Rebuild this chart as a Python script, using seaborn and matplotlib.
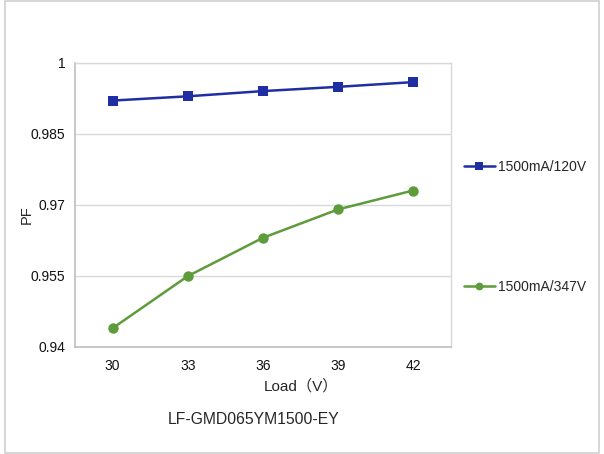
import matplotlib
matplotlib.use("Agg")
import matplotlib.pyplot as plt
import matplotlib.patches as mpatches
from matplotlib.ticker import FuncFormatter
import seaborn as sns
import pandas as pd

loads = [30, 33, 36, 39, 42]
pf_120v = [0.9920, 0.9929, 0.9940, 0.9949, 0.9959]
pf_347v = [0.9439, 0.9549, 0.9630, 0.9690, 0.9730]
series_names = ["1500mA/120V", "1500mA/347V"]
y_ticks = [0.94, 0.955, 0.97, 0.985, 1.0]
x_label = "Load（V）"
y_label = "PF"
title = "LF-GMD065YM1500-EY"

sns.set_style("white")
plt.rcParams["font.family"] = ["Liberation Sans", "Noto Sans CJK SC", "DejaVu Sans"]

df = pd.DataFrame({
    "Load": loads * 2,
    "PF": pf_120v + pf_347v,
    "Series": [series_names[0]] * len(loads) + [series_names[1]] * len(loads),
})

W, H = 604, 454
fig = plt.figure(figsize=(W / 100, H / 100), dpi=100)
ax = fig.add_axes([75 / W, 1 - 346.7 / H, (450.7 - 75) / W, (346.7 - 62.7) / H])

palette = {series_names[0]: "#1F2EA3", series_names[1]: "#5E9B3B"}
markers = {series_names[0]: "s", series_names[1]: "o"}
sns.lineplot(data=df, x="Load", y="PF", hue="Series", style="Series",
             palette=palette, markers=markers, dashes=False,
             markersize=7.5, linewidth=1.8, markeredgewidth=0, ax=ax)

ax.set_xlim(28.5, 43.5)
ax.set_ylim(0.94, 1.0)
ax.set_xticks(loads)
ax.set_yticks(y_ticks)
ax.yaxis.set_major_formatter(FuncFormatter(lambda v, p: f"{v:g}"))
ax.tick_params(axis="both", length=0, labelsize=10, colors="#111111")
ax.tick_params(axis="y", pad=7)
ax.tick_params(axis="x", pad=9)
ax.grid(axis="y", color="#d9d9d9", linewidth=1)
ax.grid(axis="x", visible=False)
for s in ["top", "right"]:
    ax.spines[s].set_color("#d9d9d9")
    ax.spines[s].set_linewidth(1)
for s in ["left", "bottom"]:
    ax.spines[s].set_color("#bfbfbf")
    ax.spines[s].set_linewidth(1.2)

ax.set_xlabel("")
ax.set_ylabel("")
fig.text(27 / W, 1 - 215 / H, y_label, ha="center", va="center",
         rotation=90, fontsize=10.5)

fig.text(301 / W, 1 - 386 / H, x_label, ha="center", va="center", fontsize=11)
fig.text(254 / W, 1 - 419 / H, title, ha="center", va="center", fontsize=11.3)

handles, labels = ax.get_legend_handles_labels()
ax.legend(handles, labels, loc="upper left", bbox_to_anchor=(457 / W, 1 - 153 / H),
          bbox_transform=fig.transFigure, frameon=False, fontsize=10,
          labelspacing=7.6, handlelength=2.2, handletextpad=0.25, borderpad=0,
          markerscale=0.75)

fig.patches.append(mpatches.Rectangle((5 / W, 1 / H), 594 / W, 452 / H,
                                      transform=fig.transFigure, fill=False,
                                      edgecolor="#d0d0d0", linewidth=1.2))

fig.savefig("out.png", dpi=100)
